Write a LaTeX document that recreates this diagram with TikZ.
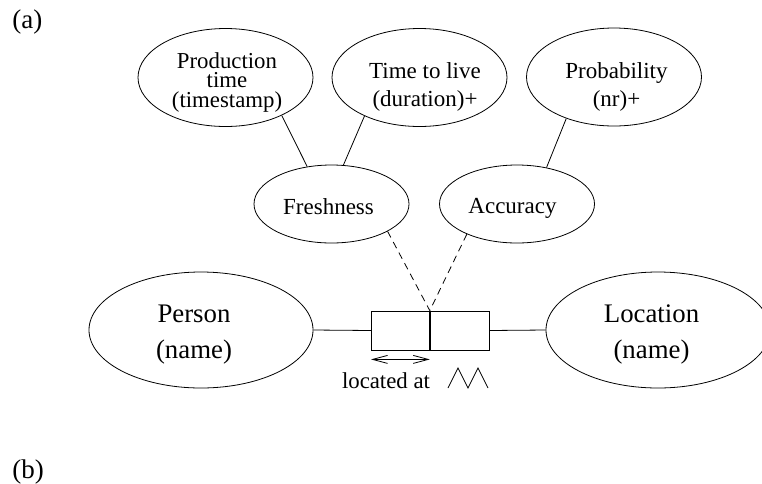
\documentclass[tikz,border=0pt]{standalone}
\usepackage{fontspec}
\setmainfont{Liberation Serif}
\usetikzlibrary{shapes.geometric,arrows.meta}
\begin{document}
\begin{tikzpicture}[x=1pt,y=-1pt,
  line width=0.8pt,
  oval/.style={ellipse,draw,inner sep=0pt},
  attr/.style={oval,minimum width=175pt,minimum height=98pt},
  quality/.style={oval,minimum width=155pt,minimum height=78pt},
  entity/.style={oval,minimum width=224pt,minimum height=116pt},
  cell/.style={draw,rectangle,inner sep=0pt,minimum height=39pt},
  txt/.style={align=center,inner sep=0pt,anchor=base},
  smalltxt/.style={txt,font=\fontsize{23}{28}\selectfont},
  bigtxt/.style={txt,font=\fontsize{26.8}{36}\selectfont},
  panel/.style={inner sep=0pt,anchor=base west,font=\fontsize{27}{32}\selectfont},
  loose/.style={dash pattern=on 7pt off 5pt},
  dim/.style={{Straight Barb[length=15pt,width=8pt]}-{Straight Barb[length=15pt,width=8pt]}}
]
\useasboundingbox (0,0) rectangle (762,483);

% panel labels
\node[panel] (pa) at (12,28) {(a)};
\node[panel] (pb) at (12,478) {(b)};

% attribute ellipses (text anchored at the baseline of its last line)
\node[attr] (prod) at (225.5,77.5) {};
\node[txt,font=\fontsize{22.8}{19.5}\selectfont] (prodtext) at (227,107) {Production\\time\\(timestamp)};
\node[attr] (ttl) at (419.5,77.5) {};
\node[smalltxt] (ttltext) at (425,106) {Time to live\\(duration)+};
\node[attr] (prob) at (614,77) {};
\node[smalltxt] (probtext) at (616.5,106) {Probability\\(nr)+};

% quality ellipses
\node[quality] (fresh) at (331.5,204) {};
\node[smalltxt] (freshtext) at (328.5,214) {Freshness};
\node[quality] (acc) at (517,204) {};
\node[smalltxt] (acctext) at (512.5,213) {Accuracy};

% entities
\node[entity] (person) at (201,330) {};
\node[bigtxt] (persontext) at (194,358) {Person\\(name)};
\node[entity] (loc) at (658,330) {};
\node[bigtxt] (loctext) at (651.5,358) {Location\\(name)};

% relationship box
\node[cell,minimum width=58pt,anchor=west] (lbox) at (371,330.5) {};
\node[cell,minimum width=59pt,anchor=west] (rbox) at (lbox.east) {};
\coordinate (meet) at (lbox.north east);

% connectors
\draw (person.east) -- (lbox.west);
\draw (rbox.east) -- (loc.west);
\draw (prod.-34.5) -- (fresh.123.5);
\draw (ttl.215.6) -- (fresh.73.6);
\draw (prob.221) -- (acc.51.6);
\draw[loose] (fresh.-26.4) -- (meet);
\draw[loose] (acc.211.6) -- (meet);

% role marker under the box
\draw[dim] ([yshift=-9pt]lbox.south west) -- ([yshift=-9pt]lbox.south east);
\node[txt,font=\fontsize{22.8}{27}\selectfont] (lbl) at (386,388) {located at};
\draw[line join=miter] (448,388) -- (458,368) -- (468,388) -- (478,368) -- (488,388);
\end{tikzpicture}
\end{document}
